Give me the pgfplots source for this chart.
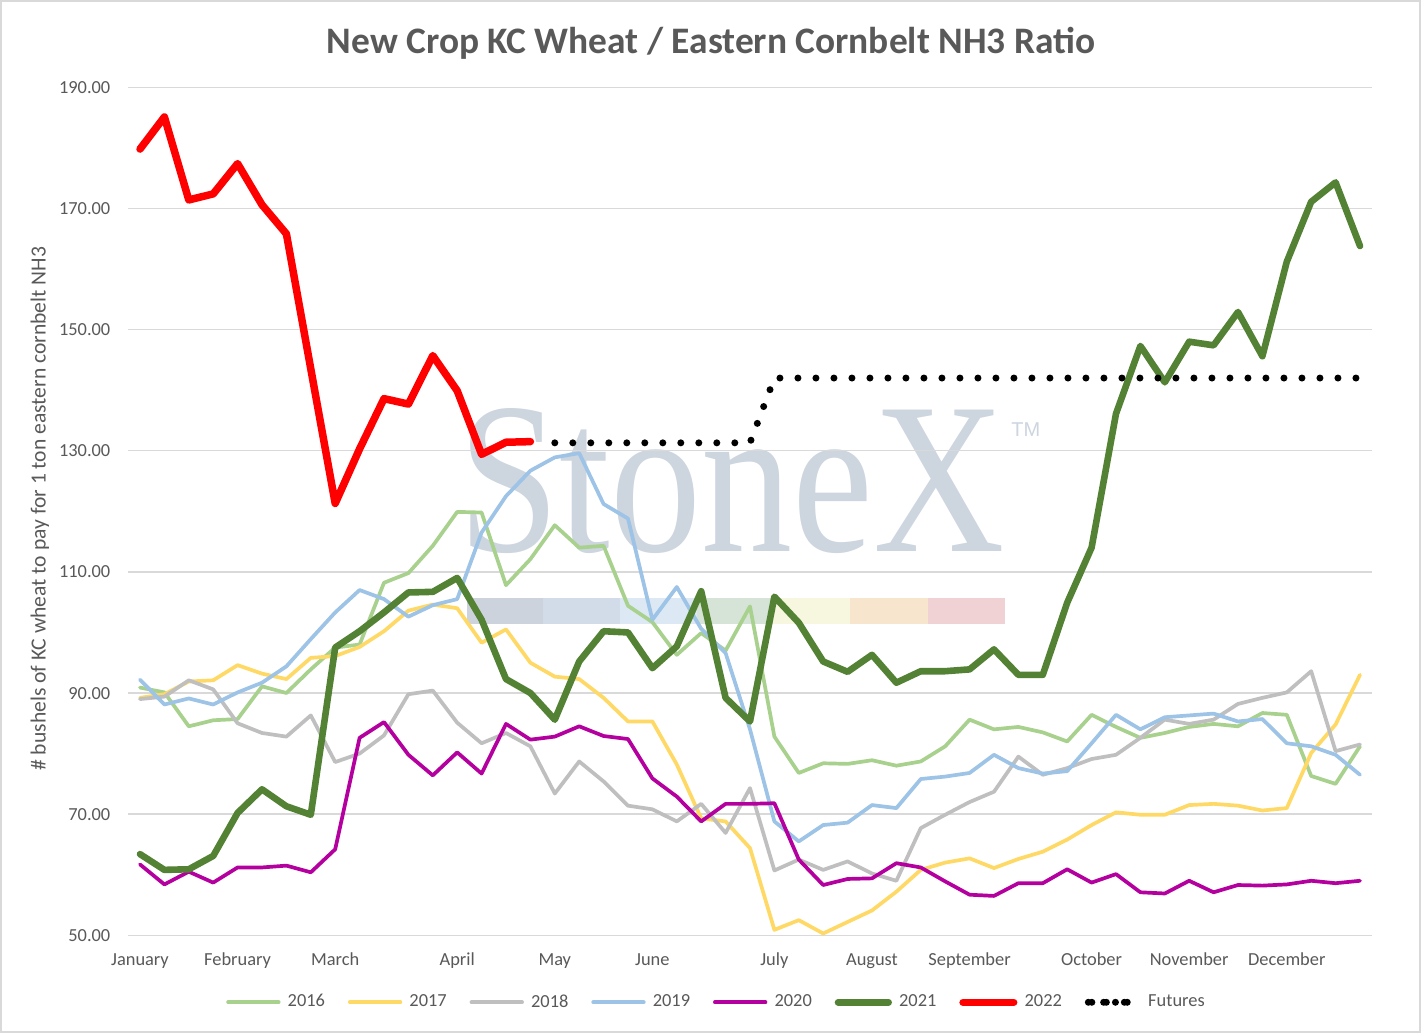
\documentclass[border=0pt]{standalone}
\usepackage{fontspec}
\setmainfont{Carlito}
\newfontfamily\wmfont{Liberation Serif}
\newfontfamily\tmfont{Liberation Sans}
\usepackage{pgfplots}
\pgfplotsset{compat=1.18}
\usepackage{pgfplotstable}

\definecolor{c16}{HTML}{A9D18E}
\definecolor{c17}{HTML}{FFD966}
\definecolor{c18}{HTML}{BFBFBF}
\definecolor{c19}{HTML}{9DC3E6}
\definecolor{c20}{HTML}{B4009E}
\definecolor{c21}{HTML}{548235}
\definecolor{c22}{HTML}{FF0000}
\definecolor{txt}{HTML}{595959}
\definecolor{gridc}{HTML}{D9D9D9}
\definecolor{wm}{HTML}{CDD5DF}
\definecolor{b1}{HTML}{CDD3DC}
\definecolor{b2}{HTML}{D1DCE8}
\definecolor{b3}{HTML}{DCE8F3}
\definecolor{b4}{HTML}{D6E4D8}
\definecolor{b5}{HTML}{F7F6DF}
\definecolor{b6}{HTML}{F8E5CE}
\definecolor{b7}{HTML}{F0D2D5}

\pgfplotstableread{
x y16 y17 y18 y19 y20 y21
0 90.9 89.2 89.0 92.2 61.7 63.4
1 90.1 89.8 89.4 88.1 58.4 60.8
2 84.5 91.9 92.1 89.1 60.5 60.9
3 85.5 92.1 90.6 88.1 58.7 63.1
4 85.7 94.6 85.0 90.1 61.2 70.2
5 91.1 93.2 83.4 91.7 61.2 74.1
6 90.0 92.3 82.8 94.4 61.5 71.3
7 93.9 95.8 86.3 98.9 60.4 69.9
8 97.5 96.1 78.6 103.3 64.2 97.5
9 98.0 97.6 80.0 107.0 82.6 100.2
10 108.2 100.2 83.0 105.5 85.2 103.3
11 109.8 103.6 89.8 102.6 79.8 106.6
12 114.3 104.6 90.4 104.5 76.4 106.7
13 119.9 104.0 85.1 105.5 80.2 109.0
14 119.8 98.3 81.7 116.5 76.7 102.1
15 107.8 100.5 83.4 122.5 84.9 92.3
16 112.1 95.0 81.2 126.7 82.3 90.0
17 117.7 92.7 73.4 128.9 82.8 85.6
18 114.0 92.3 78.7 129.6 84.5 95.2
19 114.3 89.2 75.4 121.2 82.9 100.2
20 104.4 85.3 71.4 118.8 82.4 100.0
21 101.7 85.3 70.8 102.1 75.9 94.1
22 96.3 78.2 68.8 107.5 72.9 97.7
23 99.9 69.3 71.7 100.6 68.8 106.8
24 97.0 68.8 66.9 96.6 71.7 89.2
25 104.3 64.4 74.3 84.0 71.7 85.3
26 82.8 50.9 60.7 68.8 71.8 105.9
27 76.8 52.5 62.5 65.5 62.5 101.6
28 78.4 50.3 60.8 68.2 58.3 95.2
29 78.3 52.2 62.2 68.6 59.3 93.5
30 78.9 54.1 60.2 71.5 59.4 96.3
31 78.0 57.2 59.0 71.0 61.9 91.7
32 78.7 60.8 67.7 75.8 61.2 93.6
33 81.2 62.0 69.9 76.2 58.9 93.6
34 85.6 62.7 72.0 76.8 56.7 93.9
35 84.0 61.1 73.7 79.8 56.5 97.2
36 84.4 62.6 79.5 77.6 58.6 93.0
37 83.5 63.8 76.5 76.7 58.6 93.0
38 82.0 65.8 77.6 77.1 60.9 104.9
39 86.4 68.2 79.1 81.7 58.7 114.0
40 84.4 70.3 79.8 86.4 60.1 136.1
41 82.6 69.9 82.6 84.0 57.1 147.3
42 83.4 69.9 85.6 86.0 56.9 141.3
43 84.4 71.5 84.9 86.3 59.0 148.0
44 84.9 71.7 85.6 86.6 57.1 147.4
45 84.5 71.4 88.2 85.3 58.3 152.9
46 86.7 70.6 89.2 85.7 58.2 145.6
47 86.4 71.0 90.1 81.7 58.4 161.2
48 76.3 80.1 93.6 81.2 59.0 171.1
49 75.0 84.8 80.4 79.8 58.6 174.3
50 81.2 93.0 81.5 76.5 59.0 163.8
}\hist

\pgfplotstableread{
x y
0 179.8
1 185.1
2 171.4
3 172.4
4 177.4
5 170.6
6 165.8
7 143.5
8 121.3
9 130.3
10 138.6
11 137.7
12 145.7
13 139.9
14 129.4
15 131.4
16 131.5
}\cur

\pgfplotstableread{
x y
17 131.3
18 131.3
19 131.3
20 131.3
21 131.3
22 131.3
23 131.3
24 131.3
25 131.3
26 142.0
27 142.0
28 142.0
29 142.0
30 142.0
31 142.0
32 142.0
33 142.0
34 142.0
35 142.0
36 142.0
37 142.0
38 142.0
39 142.0
40 142.0
41 142.0
42 142.0
43 142.0
44 142.0
45 142.0
46 142.0
47 142.0
48 142.0
49 142.0
50 142.0
}\fut

\begin{document}
\begin{tikzpicture}[x=1pt,y=1pt]
\useasboundingbox (0,0) rectangle (710.5,516.5);
\fill[white] (0,0) rectangle (710.5,516.5);
\draw[gridc, line width=1pt] (0.5,0.5) rectangle (710,516);
% watermark logo
\fill[b1] (233.25,204.35) rectangle (271.5,217.35);
\fill[b2] (271.5,204.35) rectangle (309.8,217.35);
\fill[b3] (309.8,204.35) rectangle (348.45,217.35);
\fill[b4] (348.45,204.35) rectangle (386.7,217.35);
\fill[b5] (386.7,204.35) rectangle (425.15,217.35);
\fill[b6] (425.15,204.35) rectangle (463.8,217.35);
\fill[b7] (463.8,204.35) rectangle (502.5,217.35);
\node[anchor=base west, inner sep=0pt, text=wm, xscale=0.843, font=\wmfont\fontsize{108}{110}\selectfont] at (229.1,240.65) {StoneX};
\node[anchor=base west, inner sep=0pt, text=wm, font=\tmfont\fontsize{10}{12}\selectfont] at (505.5,298.15) {TM};
\begin{axis}[
  at={(63.9pt,48.85pt)}, anchor=south west,
  scale only axis, width=622.2pt, height=424pt,
  xmin=-0.5, xmax=50.5, ymin=50, ymax=190,
  axis line style={draw=none},
  tick style={draw=none}, major tick length=0pt,
  ytick={50,70,...,190},
  ymajorgrids, grid style={gridc, line width=0.75pt},
  xtick={0,4,8,13,17,21,26,30,34,39,43,47},
  xticklabels={January,February,March,April,May,June,July,August,September,October,November,December},
  /pgf/number format/assume math mode=true,
  yticklabel={\pgfmathprintnumber[fixed,fixed zerofill,precision=2]{\tick}},
  ticklabel style={font=\fontsize{9.2}{11}\selectfont, text=txt, inner sep=0pt},
  xticklabel style={anchor=base, yshift=-15.35pt},
  yticklabel style={anchor=base east, yshift=-3pt, xshift=-8.55pt},
  title={New Crop KC Wheat / Eastern Cornbelt NH3 Ratio},
  title style={at={(axis description cs:0.4687,1.0408)}, anchor=base, yshift=-6.3pt, font=\bfseries\fontsize{18.7}{21}\selectfont, text=txt, inner sep=0pt},
  ylabel={\# bushels of KC wheat to pay for 1 ton eastern cornbelt NH3},
  ylabel style={at={(axis description cs:-0.0706,0.503)}, anchor=center, font=\fontsize{10.8}{12}\selectfont, text=txt, inner sep=0pt},
  legend columns=8,
  legend style={at={(axis description cs:0.0791,-0.079)}, anchor=west, draw=none, fill=none,
    inner sep=0pt, outer sep=0pt, font=\fontsize{9.2}{11}\selectfont, text=txt,
    nodes={inner sep=0pt},
    /tikz/every odd column/.style={column sep=3.6pt},
    /tikz/every even column/.style={column sep=11.45pt}},
  legend image code/.code={\draw[#1] (0pt,0pt) -- (25.3pt,0pt);},
  every axis plot/.append style={line join=round, line cap=round},
]
\addplot[c16, line width=1.85pt] table[x=x, y=y16] {\hist};
\addlegendentry{2016}
\addplot[c17, line width=1.85pt] table[x=x, y=y17] {\hist};
\addlegendentry{2017}
\addplot[c18, line width=1.85pt] table[x=x, y=y18] {\hist};
\addlegendentry{2018}
\addplot[c19, line width=1.85pt] table[x=x, y=y19] {\hist};
\addlegendentry{2019}
\addplot[c20, line width=1.85pt] table[x=x, y=y20] {\hist};
\addlegendentry{2020}
\addplot[c21, line width=3.3pt] table[x=x, y=y21] {\hist};
\addlegendentry{2021}
\addplot[c22, line width=3.75pt] table[x=x, y=y] {\cur};
\addlegendentry{2022}
\addplot[black, line width=3.5pt, line cap=round, dash pattern=on 0pt off 9pt,
  legend image code/.code={\path (0pt,0pt) -- (24.6pt,0pt);
    \path[fill=black, draw=none, solid] (1.75pt,0pt) circle[radius=1.75pt]
      (7.65pt,0pt) circle[radius=1.75pt]
      (13.55pt,0pt) circle[radius=1.75pt]
      (19.45pt,0pt) circle[radius=1.75pt];}]
  table[x=x, y=y] {\fut};
\addlegendentry{Futures}
\end{axis}
\end{tikzpicture}
\end{document}
